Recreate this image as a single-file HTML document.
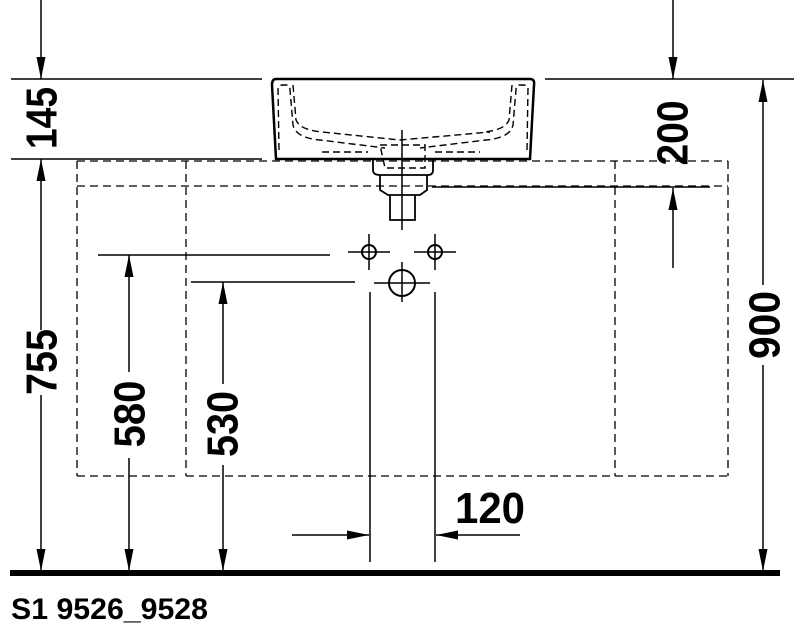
<!DOCTYPE html>
<html><head><meta charset="utf-8"><style>html,body{margin:0;padding:0;background:#fff}svg{display:block}</style></head>
<body>
<svg width="799" height="630" viewBox="0 0 799 630" xmlns="http://www.w3.org/2000/svg" font-family="Liberation Sans, sans-serif" font-weight="bold">
<defs>
<marker id="a" viewBox="0 0 10 10" refX="10" refY="5" markerWidth="22" markerHeight="9" markerUnits="userSpaceOnUse" orient="auto" preserveAspectRatio="none"><path d="M0,0 L10,5 L0,10z" fill="#000"/></marker>
</defs>
<g stroke="#000" stroke-width="1.5" fill="none">
<line x1="11" y1="79" x2="262" y2="79"/>
<line x1="545" y1="79" x2="794" y2="79"/>
<line x1="11" y1="159" x2="262" y2="159"/>
<line x1="432" y1="187" x2="710" y2="187"/>
<line x1="98" y1="255" x2="330" y2="255"/>
<line x1="191" y1="282" x2="355" y2="282"/>
<line x1="41" y1="0" x2="41" y2="79" marker-end="url(#a)"/>
<line x1="41" y1="330" x2="41" y2="159" marker-end="url(#a)"/>
<line x1="41" y1="395" x2="41" y2="571" marker-end="url(#a)"/>
<line x1="129" y1="372" x2="129" y2="255" marker-end="url(#a)"/>
<line x1="129" y1="458" x2="129" y2="571" marker-end="url(#a)"/>
<line x1="223" y1="384" x2="223" y2="282" marker-end="url(#a)"/>
<line x1="223" y1="465" x2="223" y2="571" marker-end="url(#a)"/>
<line x1="673" y1="0" x2="673" y2="79" marker-end="url(#a)"/>
<line x1="673" y1="268" x2="673" y2="188" marker-end="url(#a)"/>
<line x1="763" y1="285" x2="763" y2="80" marker-end="url(#a)"/>
<line x1="763" y1="365" x2="763" y2="571" marker-end="url(#a)"/>
<line x1="370" y1="292" x2="370" y2="562"/>
<line x1="435" y1="292" x2="435" y2="562"/>
<line x1="292" y1="535" x2="369" y2="535" marker-end="url(#a)"/>
<line x1="520" y1="535" x2="436" y2="535" marker-end="url(#a)"/>
<g stroke-dasharray="8,5" stroke-width="1.3">
<line x1="77" y1="161" x2="728" y2="161"/>
<line x1="77" y1="186" x2="728" y2="186"/>
<line x1="77" y1="476" x2="175" y2="476"/>
<line x1="186" y1="476" x2="728" y2="476"/>
<line x1="77" y1="161" x2="77" y2="476"/>
<line x1="186" y1="161" x2="186" y2="476"/>
<line x1="615" y1="161" x2="615" y2="476"/>
<line x1="728" y1="161" x2="728" y2="476"/>
</g>
<path d="M276,79 L530,79 Q535,79 534,85 L530,159 L276,159 L272,85 Q272,79 276,79Z" stroke-width="2.5"/>
<g stroke-dasharray="7,4" stroke-width="1.4">
<path d="M279,150 L278,88 Q278,85 283,85 L287,85 Q290,85 290,90 L293,125 Q296,138 320,140 L385,148"/>
<path d="M293,85 L296,120 Q300,130 322,132 L400,140 L490,132"/>
<path d="M527,150 L528,88 Q528,85 523,85 L519,85 Q516,85 516,90 L513,125 Q510,138 486,140 L420,148"/>
<path d="M512,85 L509,120 Q505,130 484,132"/>
<path d="M322,152 L368,152 M435,152 L480,152"/>
<path d="M380,145 L425,145 L425,168 L385,168Z"/>
</g>
<path d="M373,159 L373,170 Q373,175 380,175 L428,175 Q433,175 433,170 L433,159" stroke-width="1.8"/>
<path d="M380,175 L380,190 L388,195 L420,195 L427,190 L427,175" stroke-width="1.8"/>
<path d="M390,195 L390,220 L415,220 L415,195" stroke-width="1.8"/>
<line x1="402" y1="130" x2="402" y2="230"/>
<circle cx="369" cy="252" r="7" stroke-width="2"/>
<circle cx="435" cy="252" r="7" stroke-width="2"/>
<circle cx="402" cy="283" r="13" stroke-width="2"/>
<line x1="348" y1="252" x2="390" y2="252"/><line x1="369" y1="234" x2="369" y2="270"/>
<line x1="414" y1="252" x2="456" y2="252"/><line x1="435" y1="234" x2="435" y2="270"/>
<line x1="374" y1="283" x2="430" y2="283"/><line x1="402" y1="262" x2="402" y2="302"/>
</g>
<rect x="10" y="570" width="770" height="6" fill="#000"/>
<g font-size="44" text-anchor="middle" dominant-baseline="central" fill="#000">
<text transform="translate(42,118) rotate(-90)" textLength="62" lengthAdjust="spacingAndGlyphs">145</text>
<text transform="translate(42,362) rotate(-90)" textLength="66" lengthAdjust="spacingAndGlyphs">755</text>
<text transform="translate(130,414) rotate(-90)" textLength="67" lengthAdjust="spacingAndGlyphs">580</text>
<text transform="translate(223,424) rotate(-90)" textLength="66" lengthAdjust="spacingAndGlyphs">530</text>
<text transform="translate(673,133) rotate(-90)" textLength="65" lengthAdjust="spacingAndGlyphs">200</text>
<text transform="translate(765,325) rotate(-90)" textLength="68" lengthAdjust="spacingAndGlyphs">900</text>
</g>
<text x="455" y="523" font-size="44" fill="#000" textLength="70" lengthAdjust="spacingAndGlyphs">120</text>
<text x="11" y="619" font-size="30" fill="#000" textLength="197" lengthAdjust="spacingAndGlyphs">S1 9526_9528</text>
</svg>
</body></html>
